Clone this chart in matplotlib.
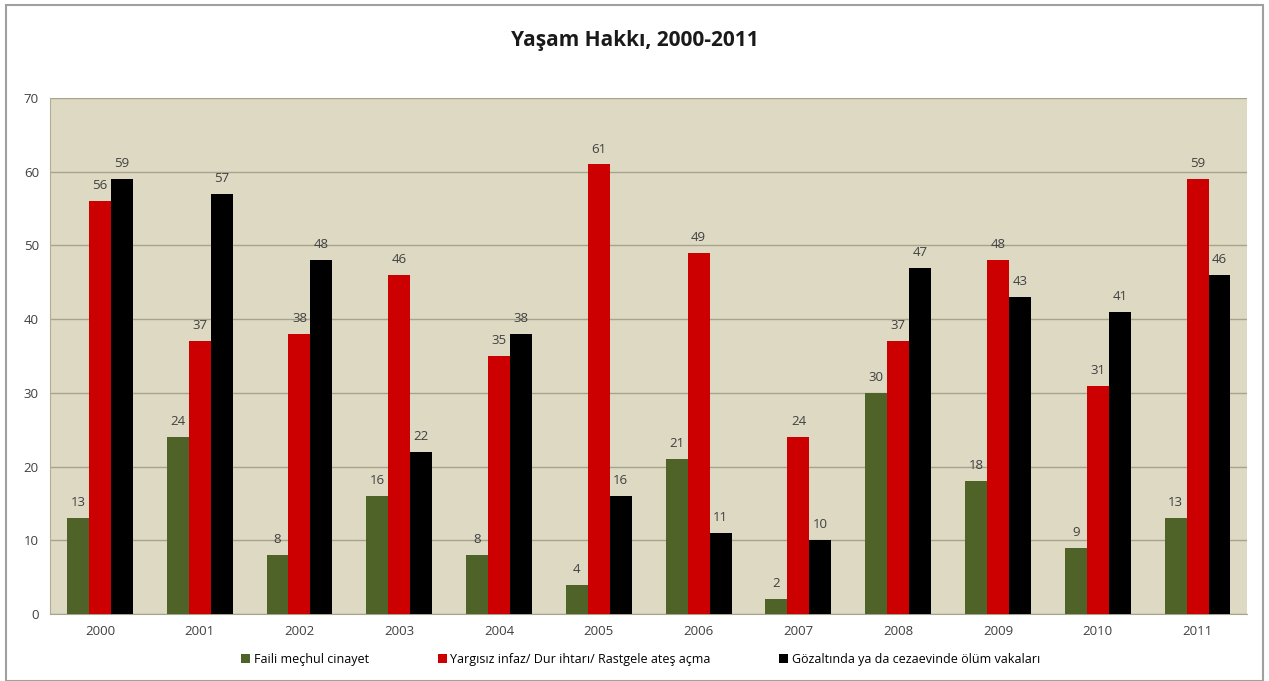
import matplotlib.pyplot as plt
import numpy as np

years = ['2000', '2001', '2002', '2003', '2004', '2005', '2006', '2007', '2008', '2009', '2010', '2011']
faili_mechul = [13, 24, 8, 16, 8, 4, 21, 2, 30, 18, 9, 13]
yargisiz_infaz = [56, 37, 38, 46, 35, 61, 49, 24, 37, 48, 31, 59]
gozalti_olum = [59, 57, 48, 22, 38, 16, 11, 10, 47, 43, 41, 46]
series_names = ['Faili meçhul cinayet',
                'Yargısız infaz/ Dur ihtarı/ Rastgele ateş açma',
                'Gözaltında ya da cezaevinde ölüm vakaları']

plt.rcParams['font.family'] = ['Open Sans', 'DejaVu Sans']

fig = plt.figure(figsize=(12.69, 6.81), dpi=100)
fig.patch.set_facecolor('white')
ax = fig.add_axes([0.0394, 0.0984, 0.9436, 0.7576])
ax.set_facecolor('#ddd9c3')

x = np.arange(len(years))
w = 0.22
colors = ['#4f6228', '#cc0000', '#000000']
for i, (vals, c, name) in enumerate(zip([faili_mechul, yargisiz_infaz, gozalti_olum], colors, series_names)):
    bars = ax.bar(x + (i - 1) * w, vals, w, color=c, label=name, zorder=3)
    for b, v in zip(bars, vals):
        ax.text(b.get_x() + b.get_width() / 2, v + 1.2, str(v), ha='center', va='bottom',
                fontsize=9.5, color='#404040', zorder=4)

ax.set_xlim(-0.5, len(years) - 0.5)
ax.set_ylim(0, 70)
ax.set_yticks(range(0, 71, 10))
ax.set_xticks(x)
ax.set_xticklabels(years)
ax.yaxis.grid(True, color='#a6a48f', linewidth=1, zorder=0)
ax.tick_params(axis='both', labelsize=9.5, colors='#404040', length=0, pad=8)
for s in ['top', 'right']:
    ax.spines[s].set_visible(False)
ax.spines['left'].set_color('#b0ad98')
ax.spines['bottom'].set_color('#a6a48f')

fig.text(0.5, 0.94, 'Yaşam Hakkı, 2000-2011', ha='center', va='center', fontsize=15, fontweight='bold', color='#1a1a1a')

fig.legend(loc='center', bbox_to_anchor=(0.505, 0.032), ncol=3, frameon=False, fontsize=9,
           handlelength=0.7, handleheight=0.7, handletextpad=0.3, columnspacing=5.5)

# outer chart border
fig.add_artist(plt.Rectangle((0.005, 0.0), 0.99, 0.993, transform=fig.transFigure,
                             fill=False, edgecolor='#a0a0a0', linewidth=1.5))

fig.savefig('out.png', dpi=100)
